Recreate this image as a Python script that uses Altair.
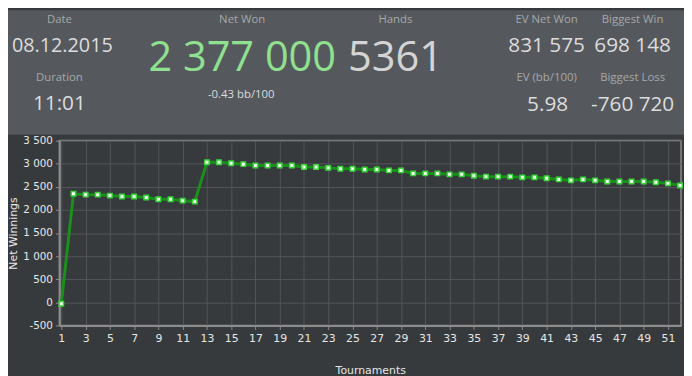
import altair as alt
import pandas as pd

# ---- data ----
tournaments = list(range(1, 53))
net_winnings = [-30, 2350, 2330, 2330, 2310, 2290, 2290, 2270, 2230, 2230, 2200, 2180,
                3030, 3030, 3010, 2990, 2960, 2960, 2960, 2960, 2930, 2930, 2910, 2890,
                2890, 2875, 2875, 2855, 2855, 2790, 2790, 2790, 2770, 2770, 2740, 2720,
                2720, 2720, 2705, 2705, 2685, 2660, 2640, 2660, 2640, 2615, 2615, 2615,
                2615, 2600, 2575, 2530]
x_ticks = list(range(1, 52, 2))
y_ticks = list(range(-500, 3501, 500))

header_labels = ["Date", "Duration", "Net Won", "Hands", "EV Net Won", "Biggest Win",
                 "EV (bb/100)", "Biggest Loss"]
header_values = ["08.12.2015", "11:01", "2 377 000", "5361", "831 575", "698 148",
                 "5.98", "-760 720"]
sub_value = "-0.43 bb/100"

df = pd.DataFrame({"t": tournaments, "v": net_winnings})

# ---- layout (plot area is at page x 60..689, y 140..327) ----
PX, PY = 60, 140
W, H = 629, 187
FONT_HDR = "Open Sans"
FONT_AX = "DejaVu Sans"


def txt(label, px, py, size, color, weight="normal"):
    return alt.Chart(pd.DataFrame({"s": [label]})).mark_text(
        font=FONT_HDR, fontSize=size, color=color, align="center",
        baseline="middle", fontWeight=weight
    ).encode(x=alt.value(px - PX), y=alt.value(py - PY), text="s:N")


header_bg = alt.Chart(pd.DataFrame({"a": [0]})).mark_rect(color="#55585c").encode(
    x=alt.value(-PX + 8), x2=alt.value(W + 3),
    y=alt.value(-PY + 8), y2=alt.value(134 - PY)
)

lab_col = "#a6a8aa"
val_col = "#dcdcdc"
label_pos = [(60, 18), (60, 77), (245, 18), (400, 18), (553, 18), (640, 18), (553, 77), (640, 77)]
value_pos = [(63, 44, 20, val_col), (60, 103, 21, val_col), (245, 57, 42, "#8fe08f"),
             (400, 57, 42, "#d4d4d4"), (553, 44, 21, val_col), (640, 44, 21, val_col),
             (554, 104, 21, val_col), (640, 104, 21, val_col)]

texts = []
for lab, (x, y) in zip(header_labels, label_pos):
    texts.append(txt(lab, x, y, 11.5, lab_col))
for val, (x, y, s, c) in zip(header_values, value_pos):
    texts.append(txt(val, x, y, s, c))
texts.append(txt(sub_value, 244, 94, 11.5, "#dcdcdc"))

xs = alt.Scale(domain=[0.84, 52.08], nice=False, zero=False)
ys = alt.Scale(domain=[-500, 3500], nice=False, zero=False)

base = alt.Chart(df).encode(
    x=alt.X("t:Q", scale=xs, axis=alt.Axis(
        values=x_ticks, title="Tournaments", titleY=46, titleBaseline="middle",
        labelFlush=False, labelPadding=3)),
    y=alt.Y("v:Q", scale=ys, axis=alt.Axis(
        values=y_ticks, title="Net Winnings", titleX=-46, titleBaseline="middle",
        labelExpr="replace(replace(format(datum.value, ','), ',', ' '), '\u2212', '-')",
        labelFlush=False, labelPadding=3, labelFontSize=10.5)),
)

line = base.mark_line(color="#1b8f1b", strokeWidth=3)
pts = base.mark_point(shape="square", filled=True, fill="#f4fff4", stroke="#3bd43b",
                      strokeWidth=1.5, size=20, opacity=1)

chart = alt.layer(header_bg, *texts, line, pts).properties(
    width=W, height=H,
    background="#363a3d",
    autosize=alt.AutoSizeParams(type="none"),
    padding={"left": PX - 8, "top": PY - 8, "right": 3, "bottom": 376 - 8 - (PY - 8) - H},
).configure_view(
    stroke="#8a8a8a", strokeWidth=1.5
).configure_axis(
    grid=True, gridColor="#52565a", gridWidth=1,
    domainColor="#8c8c8c", domainWidth=2,
    tickColor="#8c8c8c", tickSize=4,
    labelColor="#e6e6e6", labelFont=FONT_AX, labelFontSize=11,
    titleColor="#e6e6e6", titleFont=FONT_AX, titleFontSize=11, titleFontWeight="normal",
)

chart.save("out.html", embed_options={"renderer": "svg", "actions": False})
